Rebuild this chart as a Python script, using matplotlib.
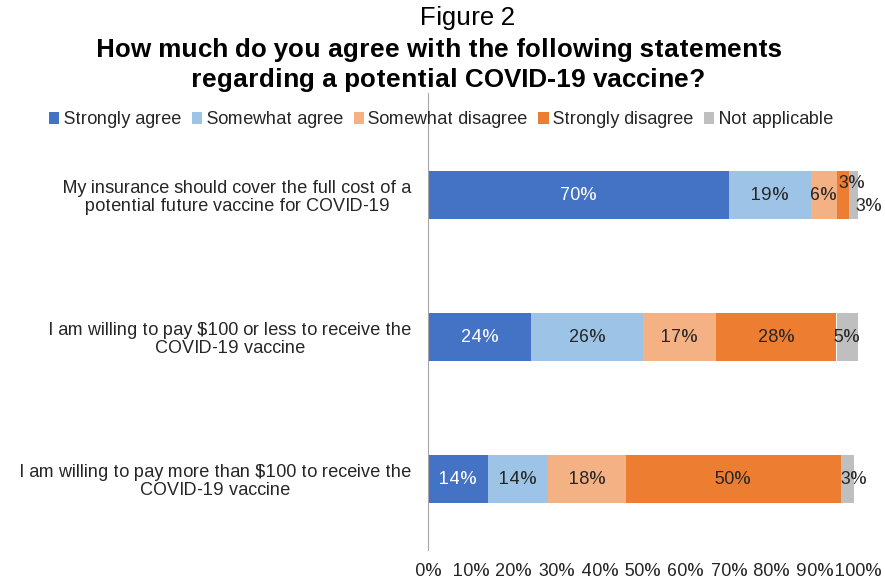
import numpy as np
import matplotlib.pyplot as plt

plt.rcParams['font.family'] = ['Liberation Sans', 'DejaVu Sans']
plt.rcParams['text.hinting_factor'] = 1

# data
statements = [
    "My insurance should cover the full cost of a\npotential future vaccine for COVID-19",
    "I am willing to pay $100 or less to receive the\nCOVID-19 vaccine",
    "I am willing to pay more than $100 to receive the\nCOVID-19 vaccine",
]
responses = ["Strongly agree", "Somewhat agree", "Somewhat disagree",
             "Strongly disagree", "Not applicable"]
strongly_agree = [70, 24, 14]
somewhat_agree = [19, 26, 14]
somewhat_disagree = [6, 17, 18]
strongly_disagree = [3, 28, 50]
not_applicable = [3, 5, 3]
xticks = [0, 10, 20, 30, 40, 50, 60, 70, 80, 90, 100]

series = [strongly_agree, somewhat_agree, somewhat_disagree,
          strongly_disagree, not_applicable]
colors = ["#4472C4", "#9DC3E6", "#F4B183", "#ED7D31", "#BFBFBF"]
text_colors = ["white", "#262626", "#262626", "#262626", "#262626"]
fs = 13.3

fig = plt.figure(figsize=(8.85, 5.8), dpi=100)
ax = fig.add_axes([428 / 885, 30 / 580, 430 / 885, 426 / 580])

y = np.arange(len(statements))
left = np.zeros(len(statements))
for i, vals in enumerate(series):
    vals = np.array(vals, dtype=float)
    ax.barh(y, vals, left=left, height=0.345, color=colors[i],
            label=responses[i], zorder=2)
    for j, v in enumerate(vals):
        cx = left[j] + v / 2
        cy = y[j]
        # small slices are nudged so labels don't collide
        if j == 0 and i == 3:
            cy -= 0.08
            cx += 2
        if j == 0 and i == 4:
            cy += 0.08
            cx += 3
        if j == 2 and i == 4:
            cx += 1.5
        ax.text(cx, cy, f"{int(v)}%", ha="center", va="center",
                fontsize=fs, color=text_colors[i], zorder=3)
    left += vals

ax.set_ylim(2.5, -0.5)
ax.set_xlim(0, 100)
ax.set_yticks(y)
ax.set_yticklabels(statements, fontsize=fs, color="#262626")
ax.set_xticks(xticks)
ax.set_xticklabels([f"{t}%" for t in xticks], fontsize=fs, color="#262626")
ax.tick_params(axis="x", length=0, pad=9)
ax.tick_params(axis="y", length=0, pad=12)
for s in ["top", "right", "bottom"]:
    ax.spines[s].set_visible(False)
ax.spines["left"].set_color("#A6A6A6")
ax.spines["left"].set_bounds(2.5, -0.72)
ax.spines["left"].set_zorder(5)

for t in ax.get_yticklabels():
    t.set_multialignment("center")
    t.set_linespacing(1.1)

fig.text(467 / 885, 1 - 18 / 580, "Figure 2", ha="center", va="center", fontsize=19)
fig.text(439 / 885, 1 - 50 / 580, "How much do you agree with the following statements",
         ha="center", va="center", fontsize=19, fontweight="bold")
fig.text(448 / 885, 1 - 80 / 580, "regarding a potential COVID-19 vaccine?",
         ha="center", va="center", fontsize=19, fontweight="bold")

fig.legend(loc="center", bbox_to_anchor=(441 / 885, 1 - 120 / 580), ncol=5, frameon=False,
           fontsize=fs, handlelength=0.55, handleheight=0.55, handletextpad=0.25,
           columnspacing=0.6, labelcolor="#262626")

plt.savefig("out.png", dpi=100)
